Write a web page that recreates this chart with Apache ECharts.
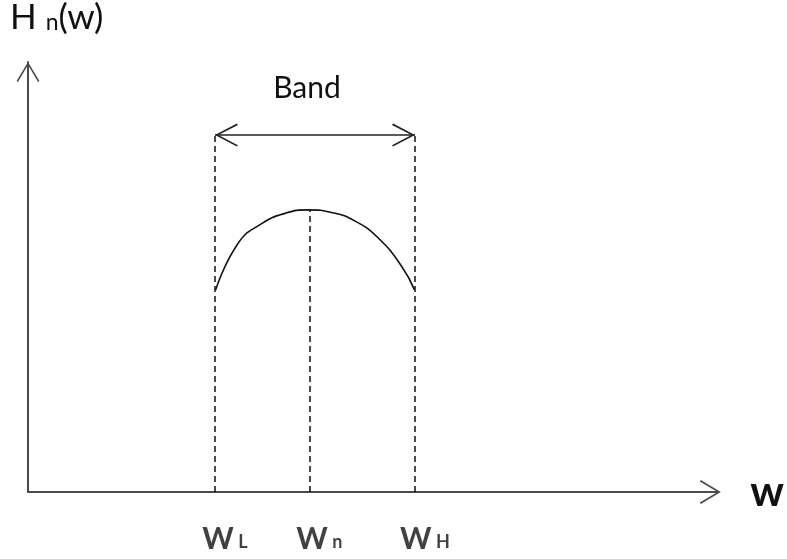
<!DOCTYPE html>
<html><head><meta charset="utf-8">
<script src="https://cdn.jsdelivr.net/npm/echarts@6/dist/echarts.min.js"></script>
<style>html,body{margin:0;padding:0;background:#fff}#c{width:787px;height:559px}</style>
</head><body><div id="c"></div>
<script>
// Frequency markers (x in axis units)
const markerX = [4.0, 6.02, 8.28];
const markerSub = ['L', 'n', 'H'];
// Response curve samples [w, H]
const curveW = [4.015, 4.5, 5.0, 5.5, 6.0, 6.5, 7.0, 7.5, 8.0, 8.27];
const curveH = [4.70, 5.79, 6.24, 6.48, 6.56, 6.50, 6.30, 5.90, 5.24, 4.70];
// Band arrow level and peak
const bandY = 8.3;
const peakH = 6.56;
const xMax = 14.77, yMax = 10;

const chevron = 'path://M12,0 L24,20 L22.6,21 L12,3.2 L1.4,21 L0,20 Z';
const FONT = 'Lato';

const chart = echarts.init(document.getElementById('c'));
chart.setOption({
  animation: false,
  grid: { left: 28, right: 65, top: 62, bottom: 67 },
  xAxis: {
    type: 'value', min: 0, max: xMax,
    splitLine: { show: false }, axisTick: { show: false }, axisLabel: { show: false },
    axisLine: { show: true, onZero: false, lineStyle: { color: '#4a4a4a', width: 2 },
      symbol: ['none', chevron], symbolSize: [25, 21], symbolOffset: [0, -8] },
    name: 'w', nameLocation: 'end', nameGap: 32,
    nameTextStyle: { fontFamily: FONT, fontSize: 42, fontWeight: 'bold', color: '#111', verticalAlign: 'middle', padding: [0,0,4,0] }
  },
  yAxis: {
    type: 'value', min: 0, max: yMax,
    splitLine: { show: false }, axisTick: { show: false }, axisLabel: { show: false },
    axisLine: { show: true, onZero: false, lineStyle: { color: '#4a4a4a', width: 2 },
      symbol: ['none', chevron], symbolSize: [27, 20], symbolOffset: [0, -10] }
  },
  graphic: [{
    type: 'text', left: 10, top: 0,
    style: { text: '{a|H }{b|n}{a|(w)}', rich: {
      a: { fontFamily: FONT, fontSize: 35, fill: '#111' },
      b: { fontFamily: FONT, fontSize: 23, fill: '#111', padding: [10,0,0,0] } } }
  }],
  series: [
    { type: 'line', smooth: true, symbol: 'none',
      data: curveW.map((w, i) => [w, curveH[i]]),
      lineStyle: { color: '#111', width: 1.6 },
      markLine: {
        silent: true, symbol: ['none', 'none'], label: { show: false },
        lineStyle: { color: '#111', width: 1.5, type: [6, 4] },
        data: [
          [{ coord: [markerX[0], 0] }, { coord: [markerX[0], bandY] }],
          [{ coord: [markerX[1], 0] }, { coord: [markerX[1], peakH] }],
          [{ coord: [markerX[2], 0] }, { coord: [markerX[2], bandY] }]
        ]
      }
    },
    { type: 'line', symbol: 'none', data: [],
      markLine: {
        silent: true, symbol: [chevron, chevron], symbolSize: 23,
        symbolOffset: [[0, 11.5], [0, 11.5]],
        label: { show: true, position: 'middle', formatter: 'Band', distance: 32,
          fontFamily: FONT, fontSize: 30, color: '#111', padding: [0, 16, 0, 0] },
        lineStyle: { color: '#222', width: 1.5, type: 'solid' },
        data: [[{ coord: [markerX[0], bandY] }, { coord: [markerX[2], bandY] }]]
      }
    },
    { type: 'scatter', symbolSize: 0,
      data: markerX.map((x, i) => ({ value: [x, 0], sub: markerSub[i] })),
      label: { show: true, position: 'bottom', distance: 32, offset: [10, 0],
        formatter: p => '{a|W}{b| ' + p.data.sub + '}',
        rich: { a: { fontFamily: FONT, fontSize: 30, fontWeight: 'bold', color: '#111' },
                b: { fontFamily: FONT, fontSize: 18, fontWeight: 'bold', color: '#111', padding: [7,0,0,0] } } }
    }
  ]
});
</script></body></html>
